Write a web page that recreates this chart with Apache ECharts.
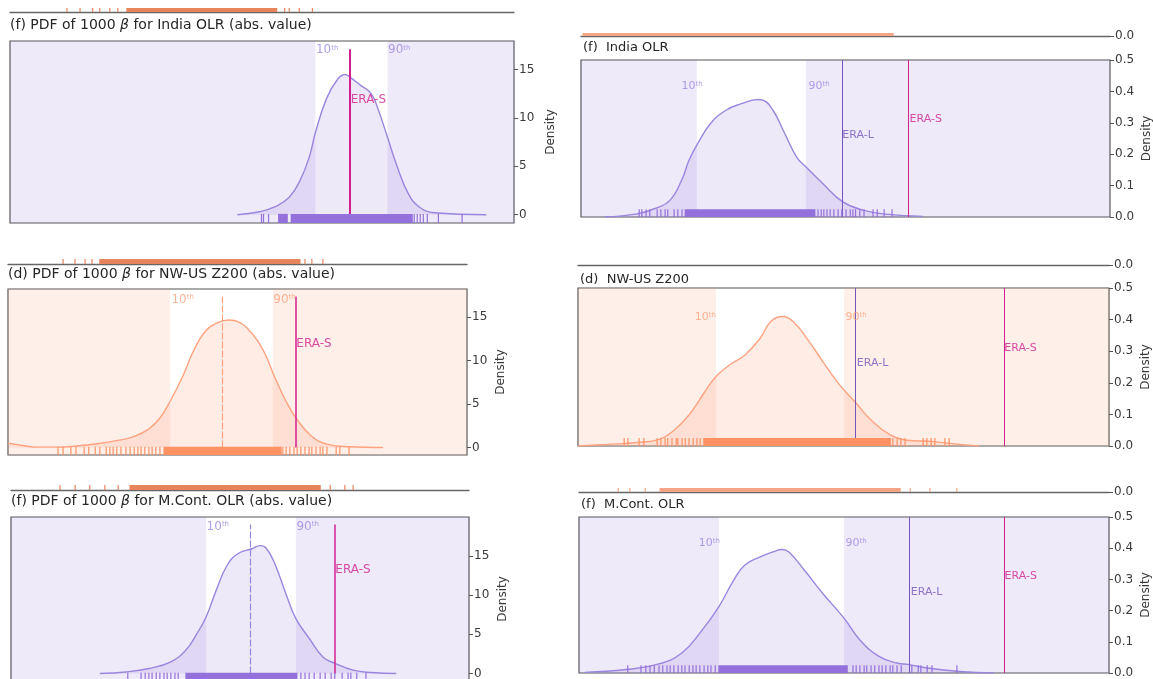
<!DOCTYPE html>
<html><head><meta charset="utf-8">
<script src="https://cdn.jsdelivr.net/npm/echarts@6/dist/echarts.min.js"></script>
<style>html,body{margin:0;padding:0;background:#fff}#c{width:1153px;height:679px}</style>
</head><body><div id="c"></div><script>
// ---------------- DATA (x in % of each panel's x-range, y = density) ----------------
const titles = [
  '(f) PDF of 1000 β for India OLR (abs. value)',
  '(f)  India OLR',
  '(d) PDF of 1000 β for NW-US Z200 (abs. value)',
  '(d)  NW-US Z200',
  '(f) PDF of 1000 β for M.Cont. OLR (abs. value)',
  '(f)  M.Cont. OLR'
];
const ticksL = [0, 5, 10, 15];
const ticksR = [0, 0.1, 0.2, 0.3, 0.4, 0.5];

// Panel L1: India OLR (abs. value)
const l1Curve = [[45.1,0],[49.5,0.3],[52.5,0.8],[55.4,1.8],[57.6,3.6],[59.4,6.0],[60.6,8.5],[62.8,12.0],[65.0,14.0],[66.5,14.5],[67.5,14.2],[69.5,13.4],[71.7,12.5],[73.1,10.8],[74.9,8.0],[76.8,5.0],[79.0,2.2],[81.2,0.8],[84.2,0.2],[94.5,0]];
const l1Band = [60.6, 74.9];
const l1EraS = 67.5;
const l1PctPos = [[60.6, 17.0], [74.9, 17.0]];
const l1EraSPos = [67.5, 11.9];
const l1RugTicks = [49.9, 50.3, 51.3, 80.2, 80.8, 81.4, 82.0, 82.8, 85.0, 89.7];
const l1RugDense = [[53.3, 55.0], [55.8, 79.8]];

// Panel R1: India OLR
const r1Curve = [[4.5,0],[10.6,0.01],[14.0,0.027],[16.8,0.053],[19.1,0.12],[20.4,0.18],[22.1,0.235],[24.6,0.30],[27.4,0.34],[30.2,0.36],[33.5,0.374],[34.4,0.372],[36.3,0.34],[38.4,0.27],[40.8,0.19],[42.5,0.16],[45.7,0.107],[49.5,0.048],[53.5,0.021],[57.7,0.009],[64.6,0.002]];
const r1Band = [21.9, 42.5];
const r1EraL = 49.4, r1EraS = 61.8;
const r1PctPos = [[18.9, 0.416], [42.9, 0.416]];
const r1EraLPos = [49.3, 0.262], r1EraSPos = [62.0, 0.313];
const r1RugTicks = [11.0, 11.5, 12.3, 13.0, 14.4, 15.1, 15.9, 16.4, 17.6, 18.3, 19.1, 44.8, 45.4, 45.9, 46.5, 47.1, 47.8, 48.6, 49.3, 50.1, 50.9, 51.4, 51.9, 52.7, 53.5, 55.2, 56.0, 57.3, 58.8];
const r1RugDense = [[19.7, 44.2]];

// Panel L2: NW-US Z200 (abs. value)
const l2Curve = [[0,0.5],[3.1,0.23],[6.3,0.04],[10.5,0.04],[14.4,0.15],[19.4,0.42],[24.2,0.84],[27.5,1.27],[30.7,2.15],[33.1,3.4],[35.3,5.3],[37.9,8.0],[40.3,11.0],[42.7,13.2],[45.3,14.3],[48.1,14.7],[50.1,14.5],[53.4,13.0],[55.8,11.0],[58.2,8.0],[60.6,5.3],[63.0,3.2],[66.2,1.27],[69.5,0.38],[74.3,0.08],[81.7,0]];
const l2Band = [35.3, 57.7];
const l2Median = 46.6, l2EraS = 62.7;
const l2PctPos = [[35.5, 17.0], [57.7, 17.0]];
const l2EraSPos = [62.7, 12.0];
const l2RugTicks = [10.9, 12.0, 13.7, 14.8, 16.6, 17.6, 19.0, 20.0, 21.4, 22.2, 22.9, 23.7, 24.6, 25.7, 26.6, 27.5, 28.3, 29.0, 29.8, 30.7, 31.4, 32.2, 33.1, 59.9, 60.6, 61.4, 62.3, 63.0, 63.8, 64.7, 65.6, 66.2, 67.1, 68.0, 68.6, 69.5, 71.5, 72.3, 74.3];
const l2RugDense = [[34.0, 59.5]];

// Panel R2: NW-US Z200
const r2Curve = [[0,0],[5.5,0.005],[11.1,0.011],[15.3,0.021],[18.1,0.05],[20.9,0.098],[23.7,0.167],[26.0,0.22],[28.6,0.257],[31.5,0.289],[34.3,0.341],[36.3,0.394],[38.4,0.41],[40.5,0.394],[43.3,0.336],[46.1,0.267],[49.0,0.199],[52.4,0.135],[55.2,0.082],[58.8,0.035],[61.6,0.019],[67.0,0.014],[71.9,0.005],[75.5,0]];
const r2Band = [26.0, 50.1];
const r2EraL = 52.3, r2EraS = 80.2;
const r2PctPos = [[21.9, 0.408], [50.3, 0.408]];
const r2EraLPos = [52.4, 0.263], r2EraSPos = [80.2, 0.31];
const r2RugTicks = [8.7, 9.4, 11.5, 12.4, 14.9, 15.6, 16.4, 16.9, 17.7, 18.5, 18.8, 19.6, 20.2, 20.9, 21.7, 22.4, 23.0, 59.3, 60.1, 60.8, 61.6, 65.0, 65.7, 66.5, 67.2, 69.1, 69.9];
const r2RugDense = [[23.7, 58.8]];

// Panel L3: M.Cont. OLR (abs. value)
const l3Curve = [[19.4,0],[25.1,0.2],[30.1,0.64],[34.9,1.5],[38.2,3.0],[40.6,5.1],[42.6,7.2],[44.8,10.6],[47.2,13.8],[49.6,15.3],[52.6,15.9],[54.4,16.3],[55.7,16.0],[57.6,14.0],[60.0,10.2],[62.2,7.0],[65.1,4.5],[68.1,2.1],[70.7,1.3],[74.7,0.43],[78.8,0.13],[84.1,0]];
const l3Band = [42.6, 62.2];
const l3Median = 52.3, l3EraS = 70.7;
const l3PctPos = [[42.6, 18.7], [62.2, 18.7]];
const l3EraSPos = [70.7, 13.2];
const l3RugTicks = [25.5, 28.4, 29.3, 30.1, 30.8, 31.7, 32.5, 33.4, 34.1, 34.9, 35.8, 36.5, 63.3, 64.2, 65.1, 66.2, 67.5, 68.6, 69.9, 70.7, 72.3, 73.6, 74.2, 75.5, 77.5];
const l3RugDense = [[38.2, 62.4]];

// Panel R3: M.Cont. OLR
const r3Curve = [[1.1,0.002],[8.9,0.011],[15.1,0.029],[19.4,0.064],[22.8,0.128],[26.4,0.213],[29.2,0.298],[31.3,0.346],[34.2,0.372],[36.6,0.388],[38.3,0.396],[39.6,0.388],[42.5,0.33],[46.0,0.255],[50.0,0.176],[53.0,0.106],[56.6,0.053],[60.0,0.032],[62.3,0.027],[65.7,0.016],[71.9,0.005],[78.3,0]];
const r3Band = [26.4, 50.0];
const r3EraL = 62.3, r3EraS = 80.2;
const r3PctPos = [[22.5, 0.416], [50.2, 0.416]];
const r3EraLPos = [62.5, 0.26], r3EraSPos = [80.2, 0.31];
const r3RugTicks = [9.2, 11.7, 12.6, 13.4, 14.2, 15.1, 15.8, 16.6, 17.2, 17.9, 18.7, 19.4, 20.0, 20.8, 21.5, 22.1, 22.8, 23.6, 24.3, 24.9, 25.7, 51.7, 52.3, 53.0, 53.8, 54.3, 55.1, 55.8, 56.6, 57.2, 57.9, 58.7, 59.2, 60.0, 60.8, 62.8, 64.0, 64.5, 65.7, 66.6, 71.3];
const r3RugDense = [[26.4, 50.6]];

// Cut-off neighbouring panels (only their bottom edge and rug visible)
const ptlRugTicks = [11.3, 13.9, 16.4, 17.8, 19.8, 21.4, 54.5, 55.4, 57.4, 60.0];
const ptlRugDense = [[23.2, 52.9]];
const ptrRugDense = [[0.4, 59.0]];
const pmlRugTicks = [12.0, 14.6, 16.8, 18.3, 64.7, 66.2, 68.6];
const pmlRugDense = [[20.0, 63.6]];
const pblRugTicks = [10.7, 14.0, 17.2, 20.5, 23.4, 69.7, 72.9, 74.7];
const pblRugDense = [[26.0, 67.5]];
const pbrRugTicks = [7.4, 9.6, 12.5, 62.5, 66.2, 71.3];
const pbrRugDense = [[15.3, 60.6]];

// ---------------- STYLE / LAYOUT ----------------
const FONT = 'DejaVu Sans';
const PAL = {
  purple: {line:'#9a85df', fill:'rgba(147,112,219,0.22)', bg:'rgba(147,112,219,0.15)', rug:'#9370db', pct:'#9c86e2'},
  orange: {line:'#ffa280', fill:'rgba(255,160,122,0.28)', bg:'rgba(255,160,122,0.17)', rug:'#ff9163', pct:'#ffa07a'}
};
const ERA_S = '#d0208e', ERA_L = '#7455bd';
const SPINE = '#555';

const grids = [], xAxes = [], yAxes = [], series = [], titleComps = [];

function rugSeries(i, ticks, dense, color, fixedH) {
  const items = ticks.map(v => [v, v, 0]).concat(dense.map(d => [d[0], d[1], 0]));
  return {
    type:'custom', xAxisIndex:i, yAxisIndex:i, z:5, silent:true, clip:false,
    encode:{x:[0,1], y:2}, data:items,
    renderItem:(params, api) => {
      const cs = params.coordSys;
      const x0 = api.coord([api.value(0), 0])[0];
      const x1 = api.coord([api.value(1), 0])[0];
      const h = fixedH || cs.height * 0.05;
      return {type:'rect', shape:{x:x0 - 0.6, y:cs.y + cs.height - h, width:Math.max(x1 - x0, 0) + 1.2, height:h}, style:{fill:color}};
    }
  };
}

function textLabel(pos, fmt, color, size) {
  return {value:pos, label:{show:true, position:'right', distance:0, formatter:fmt, color:color,
    fontSize:size, fontFamily:FONT,
    rich:{n:{fontSize:size, color:color, fontFamily:FONT}, s:{fontSize:Math.round(size*0.62), color:color, fontFamily:FONT, verticalAlign:'top'}}}};
}

function addPanel(p) {
  const i = grids.length, g = p.g, pal = p.pal;
  grids.push({left:g.left, top:g.top, width:g.width, height:g.height, show:true, borderColor:SPINE, borderWidth:1.2,
    backgroundColor:'rgba(0,0,0,0)', outerBoundsMode:'none', containLabel:false});
  xAxes.push({gridIndex:i, type:'value', min:0, max:100, show:false});
  yAxes.push({gridIndex:i, type:'value', position:'right', min:g.yMin, max:g.yMax,
    axisLine:{show:false, onZero:false}, splitLine:{show:false},
    axisTick:{show:true, length:4, lineStyle:{color:SPINE, width:1}, customValues:p.ticks},
    axisLabel:{show:true, customValues:p.ticks, margin:5, color:'#3a3a3a', fontSize:12, fontFamily:FONT,
      formatter: v => p.right ? Number(v).toFixed(1) : String(v)},
    name:'Density', nameLocation:'middle', nameRotate:90, nameGap:g.nameGap,
    nameTextStyle:{color:'#3a3a3a', fontSize:12, fontFamily:FONT}});
  // background (outside the 10th-90th band)
  series.push({type:'line', xAxisIndex:i, yAxisIndex:i, data:[[0, g.yMin]], symbol:'none', lineStyle:{opacity:0}, z:1, silent:true,
    markArea:{silent:true, itemStyle:{color:pal.bg}, data:[[{xAxis:0},{xAxis:p.band[0]}],[{xAxis:p.band[1]},{xAxis:100}]]}});
  // KDE curve
  series.push({type:'line', xAxisIndex:i, yAxisIndex:i, data:p.curve, smooth:0.45, symbol:'none',
    lineStyle:{color:pal.line, width:1.4}, areaStyle:{color:pal.fill, origin:'auto'}, z:3, silent:true});
  // vertical lines
  series.push({type:'line', xAxisIndex:i, yAxisIndex:i, data:[[0, g.yMin]], symbol:'none', lineStyle:{opacity:0}, z:4, silent:true,
    markLine:{symbol:['none','none'], silent:true, label:{show:false},
      data:p.lines.map(l => [{coord:[l.x, 0], lineStyle:{color:l.color, width:l.width, type:l.type || 'solid'}}, {coord:[l.x, g.lineTop]}])}});
  // rug
  series.push(rugSeries(i, p.rugTicks, p.rugDense, pal.rug));
  // text labels
  series.push({type:'scatter', xAxisIndex:i, yAxisIndex:i, symbolSize:1, itemStyle:{color:'rgba(0,0,0,0)'}, z:6, silent:true,
    data:p.labels});
  // title
  titleComps.push({text:p.title.replace('β', '{b|β}'), left:g.left + (p.right ? 2 : 0), top:g.titleY, padding:0,
    textStyle:{fontSize:p.right ? 13 : 14, fontWeight:'normal', color:'#262626', fontFamily:FONT,
      rich:{b:{fontStyle:'italic', fontSize:14, color:'#262626', fontFamily:FONT}}}});
}

function addPartial(q) {
  const i = grids.length;
  grids.push({left:q.left, top:q.lineY - 60, width:q.width, height:60, show:false, outerBoundsMode:'none', containLabel:false});
  xAxes.push({gridIndex:i, type:'value', min:0, max:100, axisLine:{show:true, onZero:false, lineStyle:{color:'#666', width:1.3}},
    axisTick:{show:false}, axisLabel:{show:false}, splitLine:{show:false}});
  yAxes.push({gridIndex:i, type:'value', position:'right', min:0, max:1, axisLine:{show:false, onZero:false}, splitLine:{show:false},
    axisTick:{show:q.zero, customValues:[0], length:4, lineStyle:{color:SPINE}},
    axisLabel:{show:q.zero, customValues:[0], margin:5, formatter:() => '0.0', color:'#3a3a3a', fontSize:12, fontFamily:FONT}});
  if (q.rugTicks.length || q.rugDense.length) series.push(rugSeries(i, q.rugTicks, q.rugDense, q.color, q.rugH));
}

const G = {
  L1:{left:10, top:41, width:504, height:182, yMin:-0.86, yMax:17.96, lineTop:17.1, nameGap:31, titleY:18},
  R1:{left:581, top:60, width:529, height:157, yMin:0, yMax:0.5, lineTop:0.5, nameGap:31, titleY:41},
  L2:{left:8, top:289, width:459, height:166, yMin:-0.87, yMax:18.27, lineTop:17.4, nameGap:28, titleY:267},
  R2:{left:578, top:288, width:531, height:158, yMin:0, yMax:0.5, lineTop:0.5, nameGap:31, titleY:273},
  L3:{left:11, top:517, width:458, height:164, yMin:-0.95, yMax:19.95, lineTop:19.0, nameGap:28, titleY:494},
  R3:{left:579, top:517, width:530, height:156, yMin:0, yMax:0.5, lineTop:0.5, nameGap:31, titleY:498}
};

const P = PAL.purple, O = PAL.orange;
const pct = (pos, c, s) => [textLabel(pos[0], '{n|10}{s|th}', c, s), textLabel(pos[1], '{n|90}{s|th}', c, s)];

addPanel({g:G.L1, pal:P, title:titles[0], ticks:ticksL, curve:l1Curve, band:l1Band, rugTicks:l1RugTicks, rugDense:l1RugDense,
  lines:[{x:l1EraS, color:ERA_S, width:2}],
  labels:pct(l1PctPos, P.pct, 12).concat([textLabel(l1EraSPos, 'ERA-S', ERA_S, 12)])});
addPanel({g:G.R1, pal:P, right:true, title:titles[1], ticks:ticksR, curve:r1Curve, band:r1Band, rugTicks:r1RugTicks, rugDense:r1RugDense,
  lines:[{x:r1EraL, color:ERA_L, width:1}, {x:r1EraS, color:ERA_S, width:1}],
  labels:pct(r1PctPos, P.pct, 11).concat([textLabel(r1EraLPos, 'ERA-L', ERA_L, 11), textLabel(r1EraSPos, 'ERA-S', ERA_S, 11)])});
addPanel({g:G.L2, pal:O, title:titles[2], ticks:ticksL, curve:l2Curve, band:l2Band, rugTicks:l2RugTicks, rugDense:l2RugDense,
  lines:[{x:l2Median, color:O.line, width:1.2, type:[7,2]}, {x:l2EraS, color:ERA_S, width:1.5}],
  labels:pct(l2PctPos, O.pct, 12).concat([textLabel(l2EraSPos, 'ERA-S', ERA_S, 12)])});
addPanel({g:G.R2, pal:O, right:true, title:titles[3], ticks:ticksR, curve:r2Curve, band:r2Band, rugTicks:r2RugTicks, rugDense:r2RugDense,
  lines:[{x:r2EraL, color:ERA_L, width:1}, {x:r2EraS, color:ERA_S, width:1}],
  labels:pct(r2PctPos, O.pct, 11).concat([textLabel(r2EraLPos, 'ERA-L', ERA_L, 11), textLabel(r2EraSPos, 'ERA-S', ERA_S, 11)])});
addPanel({g:G.L3, pal:P, title:titles[4], ticks:ticksL, curve:l3Curve, band:l3Band, rugTicks:l3RugTicks, rugDense:l3RugDense,
  lines:[{x:l3Median, color:P.line, width:1.2, type:[7,2]}, {x:l3EraS, color:ERA_S, width:1.5}],
  labels:pct(l3PctPos, P.pct, 12).concat([textLabel(l3EraSPos, 'ERA-S', ERA_S, 12)])});
addPanel({g:G.R3, pal:P, right:true, title:titles[5], ticks:ticksR, curve:r3Curve, band:r3Band, rugTicks:r3RugTicks, rugDense:r3RugDense,
  lines:[{x:r3EraL, color:ERA_L, width:1}, {x:r3EraS, color:ERA_S, width:1}],
  labels:pct(r3PctPos, P.pct, 11).concat([textLabel(r3EraLPos, 'ERA-L', ERA_L, 11), textLabel(r3EraSPos, 'ERA-S', ERA_S, 11)])});

addPartial({left:10, width:504, lineY:12, zero:false, rugTicks:ptlRugTicks, rugDense:ptlRugDense, color:'#e8845c', rugH:4});
addPartial({left:581, width:529, lineY:36, zero:true, rugTicks:[], rugDense:ptrRugDense, color:'#f3a585', rugH:3});
addPartial({left:8, width:459, lineY:264, zero:false, rugTicks:pmlRugTicks, rugDense:pmlRugDense, color:'#e8845c', rugH:5});
addPartial({left:578, width:531, lineY:265, zero:true, rugTicks:[], rugDense:[], color:'#e8845c', rugH:3});
addPartial({left:11, width:458, lineY:490, zero:false, rugTicks:pblRugTicks, rugDense:pblRugDense, color:'#e8845c', rugH:5});
addPartial({left:579, width:530, lineY:492, zero:true, rugTicks:pbrRugTicks, rugDense:pbrRugDense, color:'#f3a585', rugH:4});

const chart = echarts.init(document.getElementById('c'), null, {renderer:'canvas'});
chart.setOption({animation:false, backgroundColor:'#fff', title:titleComps, grid:grids, xAxis:xAxes, yAxis:yAxes, series:series});
</script></body></html>
